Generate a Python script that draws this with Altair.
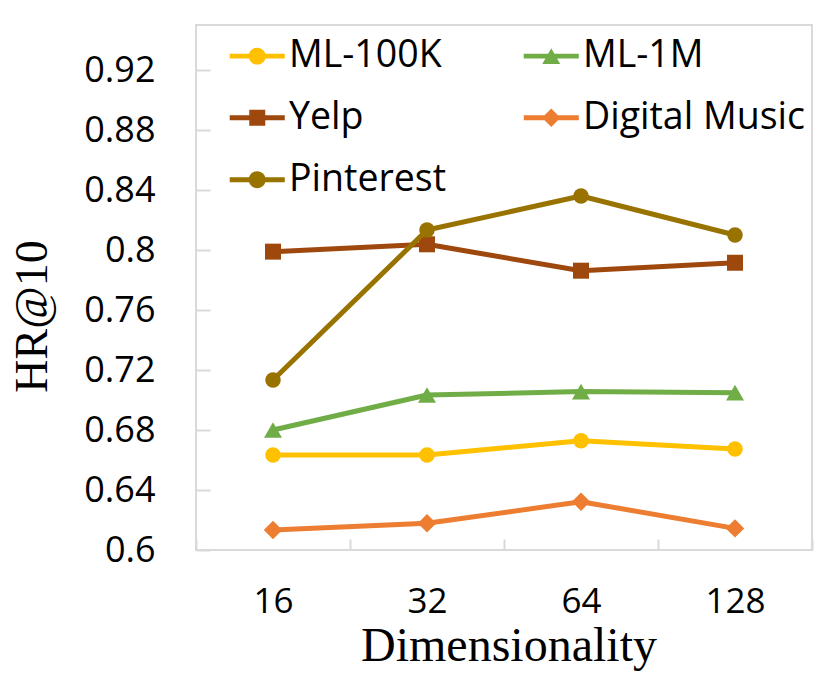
import altair as alt
import pandas as pd

dims = ["16", "32", "64", "128"]
series = ["ML-100K", "ML-1M", "Yelp", "Digital Music", "Pinterest"]
colors = ["#FFC000", "#70AD47", "#9E480E", "#ED7D31", "#997300"]
shapes = ["circle", "triangle-up", "square", "diamond", "circle"]
sizes = [240, 324, 256, 340, 240]

ml100k = [0.6633, 0.6633, 0.6729, 0.6673]
ml1m = [0.6800, 0.7033, 0.7056, 0.7049]
yelp = [0.7989, 0.8038, 0.7862, 0.7915]
digital_music = [0.6133, 0.6178, 0.6322, 0.6144]
pinterest = [0.7133, 0.8133, 0.8360, 0.8100]

y_ticks = [0.6, 0.64, 0.68, 0.72, 0.76, 0.8, 0.84, 0.88, 0.92]

# legend symbols: line segment + marker (custom paths)
line_part = "M-3.44,-0.31H3.44V0.31H-3.44Z"
legend_paths = [
    line_part + "M-1.06,0A1.06,1.06 0 1,1 1.06,0A1.06,1.06 0 1,1 -1.06,0Z",
    line_part + "M0,-0.97L1.12,0.97L-1.12,0.97Z",
    line_part + "M-1,-1H1V1H-1Z",
    line_part + "M0,-1.15L1.15,0L0,1.15L-1.15,0Z",
    line_part + "M-1.06,0A1.06,1.06 0 1,1 1.06,0A1.06,1.06 0 1,1 -1.06,0Z",
]

values = [ml100k, ml1m, yelp, digital_music, pinterest]
rows = []
for s, vals in zip(series, values):
    for d, v in zip(dims, vals):
        rows.append({"dim": d, "series": s, "value": v})
df = pd.DataFrame(rows)

LABEL_FONT = "Open Sans"
TITLE_FONT = "Liberation Serif"

x_enc = alt.X(
    "dim:N",
    sort=dims,
    scale=alt.Scale(type="band", domain=dims, paddingInner=0, paddingOuter=0),
    axis=alt.Axis(
        title="Dimensionality",
        labelAngle=0,
        labelFont=LABEL_FONT,
        labelFontSize=35,
        labelColor="#000000",
        labelPadding=34,
        tickBand="extent",
        tickSize=11,
        tickColor="#d9d9d9",
        tickWidth=2,
        offset=-11,
        domain=False,
        grid=False,
        titleFont=TITLE_FONT,
        titleFontSize=48,
        titleFontWeight="normal",
        titleColor="#000000",
        titleX=312.5,
        titleY=121,
        titleAlign="center",
        titleBaseline="alphabetic",
    ),
)

y_enc = alt.Y(
    "value:Q",
    scale=alt.Scale(domain=[0.6, 0.95], nice=False, zero=False),
    axis=alt.Axis(
        title="HR@10",
        values=y_ticks,
        format=".2~f",
        labelFont=LABEL_FONT,
        labelFontSize=36,
        labelColor="#000000",
        labelPadding=41,
        labelOverlap=False,
        tickSize=14,
        tickColor="#d9d9d9",
        tickWidth=2,
        offset=-14,
        domain=False,
        grid=False,
        titleFont=TITLE_FONT,
        titleFontSize=46,
        titleFontWeight="normal",
        titleColor="#000000",
        titleAngle=-90,
        titleX=-178,
        titleY=291,
        titleAlign="center",
        titleBaseline="middle",
    ),
)

color_plot = alt.Color("series:N", scale=alt.Scale(domain=series, range=colors), legend=None)

base = alt.Chart(df)
layers = []
for s, sh, sz in zip(series, shapes, sizes):
    b = base.transform_filter(alt.datum.series == s)
    layers.append(
        b.mark_line(strokeWidth=5, strokeJoin="round", strokeCap="round").encode(
            x=x_enc, y=y_enc, color=color_plot
        )
    )
    layers.append(
        b.mark_point(filled=True, opacity=1, shape=sh, size=sz).encode(
            x=x_enc, y=y_enc, color=color_plot
        )
    )

def make_legend():
    return alt.Legend(
        orient="none",
        direction="horizontal",
        legendX=34,
        legendY=12,
        columns=2,
        columnPadding=76,
        rowPadding=23,
        padding=0,
        symbolSize=256,
        symbolOffset=8.5,
        symbolStrokeWidth=0,
        labelOffset=13,
        labelFont=LABEL_FONT,
        labelFontSize=37.5,
        labelColor="#000000",
        labelLimit=400,
    )

legend_layer = base.transform_filter("false").mark_point(filled=True, opacity=1).encode(
    x=x_enc,
    y=y_enc,
    color=alt.Color("series:N", title=None, scale=alt.Scale(domain=series, range=colors), legend=make_legend()),
    shape=alt.Shape("series:N", title=None, scale=alt.Scale(domain=series, range=legend_paths), legend=make_legend()),
)

chart = (
    alt.layer(*layers, legend_layer)
    .resolve_scale(color="independent", shape="independent")
    .properties(
        width=616,
        height=525,
        autosize="none",
        padding={"left": 188, "top": 17, "right": 10, "bottom": 121},
    )
    .configure_view(stroke="#d9d9d9", strokeWidth=2)
)

chart.save("out.html", embed_options={"renderer": "svg", "actions": False})
